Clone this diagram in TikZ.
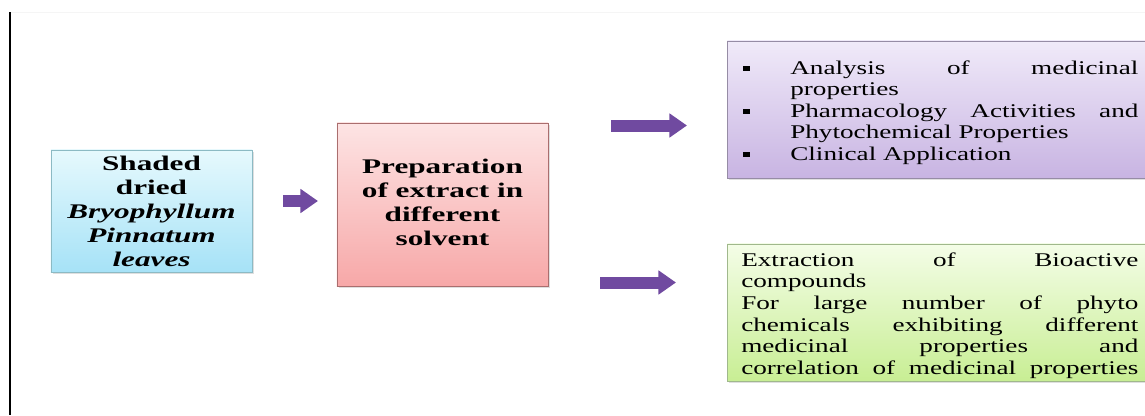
\documentclass[tikz,border=0pt]{standalone}
\usepackage{fontspec}
\setmainfont[FakeStretch=1.5]{Liberation Serif}
\newfontfamily\plainfont[FakeStretch=1.4]{Liberation Serif}
\usetikzlibrary{arrows.meta,shadows}

\definecolor{arrowpurple}{RGB}{112,74,160}
\definecolor{leaftop}{RGB}{230,249,253}
\definecolor{leafbot}{RGB}{166,226,247}
\definecolor{leafline}{RGB}{140,186,196}
\definecolor{preptop}{RGB}{253,228,228}
\definecolor{prepbot}{RGB}{247,168,168}
\definecolor{prepline}{RGB}{170,110,110}
\definecolor{usetop}{RGB}{240,234,249}
\definecolor{usebot}{RGB}{200,180,226}
\definecolor{useline}{RGB}{150,140,165}
\definecolor{extop}{RGB}{244,253,231}
\definecolor{exbot}{RGB}{200,238,148}
\definecolor{exline}{RGB}{160,184,140}

\newcommand{\bitem}[1]{\makebox[1.175cm][l]{\rule[0.08cm]{0.17cm}{0.13cm}}#1}
\newcommand{\bnext}[1]{\hspace*{1.175cm}#1}

\begin{document}
\begin{tikzpicture}[x=0.025cm,y=-0.025cm,
  box/.style={draw,rectangle,inner sep=0pt,line width=0.6pt,
    drop shadow={shadow xshift=0.05cm,shadow yshift=-0.05cm,opacity=0.25}},
  boldtxt/.style={align=center,inner sep=0pt,font=\bfseries\fontsize{14.8}{17.07}\selectfont},
  plaintxt/.style={align=left,anchor=west,inner sep=0pt,font=\plainfont\fontsize{13.8}{15.36}\selectfont},
  flowarrow/.style={draw=arrowpurple,line width=0.3cm,-{Triangle[width=0.58cm,length=0.44cm]}}]
\clip (0,0) rectangle (1145,415);
\draw[black!4,line width=0.6pt] (10,12) -- (1145,12);
\draw[line width=1.1pt] (10,12) -- (10,415);

\node[box,draw=leafline,top color=leaftop,bottom color=leafbot,
  minimum width=5.025cm,minimum height=3.05cm,boldtxt] (leaf) at (151.5,211)
  {Shaded\\dried\\\textit{Bryophyllum}\\\textit{Pinnatum}\\\textit{leaves}};

\node[box,draw=prepline,top color=preptop,bottom color=prepbot,
  minimum width=5.275cm,minimum height=4.075cm] (prep) at (442.5,204.5) {};
\node[boldtxt] (preptxt) at (442.5,202) {Preparation\\of extract in\\different\\solvent};

\node[box,draw=useline,top color=usetop,bottom color=usebot,
  minimum width=10.9cm,minimum height=3.425cm,anchor=west] (uses) at (727,109.5) {};
\node[plaintxt] (usestxt) at (743,112.5)
  {\bitem{\makebox[8.7cm][s]{Analysis of medicinal}}\\
   \bnext{properties}\\
   \bitem{\makebox[8.7cm][s]{Pharmacology Activities and}}\\
   \bnext{Phytochemical Properties}\\
   \bitem{Clinical Application}};

\node[box,draw=exline,top color=extop,bottom color=exbot,
  minimum width=10.9cm,minimum height=3.425cm,anchor=west] (extr) at (727,312.5) {};
\node[plaintxt] (extrtxt) at (741,315.5)
  {\makebox[9.925cm][s]{Extraction of Bioactive}\\
   compounds\\
   \makebox[9.925cm][s]{For large number of phyto}\\
   \makebox[9.925cm][s]{chemicals exhibiting different}\\
   \makebox[9.925cm][s]{medicinal properties and}\\
   \makebox[9.925cm][s]{correlation of medicinal properties}};

\path (283,201) coordinate (A1) (318,201) coordinate (B1);
\path (611,125.5) coordinate (A2) (687,125.5) coordinate (B2);
\path (600,282.5) coordinate (A3) (676,282.5) coordinate (B3);
\foreach \i in {1,2,3}{
\draw[flowarrow] (A\i) -- (B\i);
}
\end{tikzpicture}
\end{document}
